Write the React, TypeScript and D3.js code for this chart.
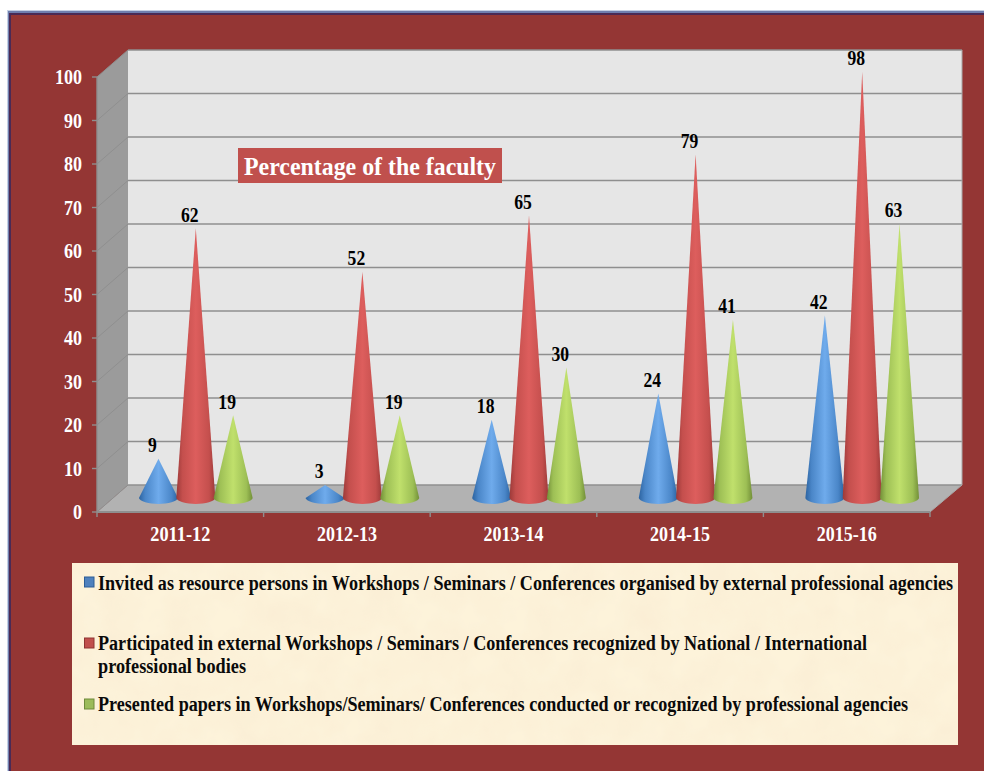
import React from 'react';
import * as d3 from 'd3';

const years = ['2011-12', '2012-13', '2013-14', '2014-15', '2015-16'];
const seriesNames = ['invited', 'participated', 'presented'];
const invited = [9, 3, 18, 24, 42];
const participated = [62, 52, 65, 79, 98];
const presented = [19, 19, 30, 41, 63];
const yTicks = [0, 10, 20, 30, 40, 50, 60, 70, 80, 90, 100];
const chartTitle = 'Percentage of the faculty';
const legendLines = [
  'Invited as resource persons in Workshops / Seminars / Conferences organised by external professional agencies',
  'Participated in external Workshops / Seminars / Conferences recognized by National / International',
  'professional bodies',
  'Presented papers in Workshops/Seminars/ Conferences conducted or recognized by professional agencies',
];

const seriesValues = [invited, participated, presented];
const coneColors = [
  ['#2c63a0', '#4a86c8', '#6fabec', '#4a86c8', '#2c63a0'],
  ['#9c3a39', '#c44f4d', '#dd5e5d', '#c44f4d', '#9c3a39'],
  ['#728f38', '#9dbf55', '#c0e06c', '#9dbf55', '#728f38'],
];
const coneStops = [0, 0.16, 0.5, 0.84, 1];
const swatchColors = [['#4f81bd', '#2c5d96'], ['#c0504d', '#8f3432'], ['#9bbb59', '#6f8a3a']];

const serif = '"Liberation Serif", "Times New Roman", serif';
const depthX = 31;
const depthY = 27;
const left = 97;
const right = 930;
const bottom = 512;
const top = 77;
const halfWidth = 19.5;
const gridColor = '#8f8f8f';

const x = d3.scaleBand().domain(years).range([left, right]);
const y = d3.scaleLinear().domain([0, 100]).range([bottom, top]);

function conePath(cx: number, value: number) {
  const base = y(0) - 14;
  const p = d3.path();
  p.moveTo(cx - halfWidth, base);
  p.lineTo(cx, y(value) - 14);
  p.lineTo(cx + halfWidth, base);
  p.bezierCurveTo(cx + halfWidth, base + 3, cx + 9, base + 6, cx, base + 6);
  p.bezierCurveTo(cx - 9, base + 6, cx - halfWidth, base + 3, cx - halfWidth, base);
  p.closePath();
  return p.toString();
}

export default function App() {
  const inner = d3.scaleBand().domain(seriesNames).range([-56, 56]);
  const ticksX = [...years.map((d) => x(d) as number), right];

  return (
    <svg width={984} height={771} style={{ position: 'absolute', left: 0, top: 0, display: 'block' }}>
      <defs>
        {coneColors.map((stops, i) => (
          <linearGradient id={`cone${i}`} key={i} x1="0" x2="1" y1="0" y2="0">
            {stops.map((c, j) => (
              <stop key={j} offset={coneStops[j]} stopColor={c} />
            ))}
          </linearGradient>
        ))}
        <filter id="parchment" x="0" y="0" width="100%" height="100%">
          <feTurbulence type="fractalNoise" baseFrequency="0.03" numOctaves={3} seed={4} />
          <feColorMatrix values="0 0 0 0 0.96  0 0 0 0 0.85  0 0 0 0 0.66  1.4 0 0 0 -0.45" />
          <feComposite in2="SourceGraphic" operator="in" />
          <feMerge>
            <feMergeNode in="SourceGraphic" />
            <feMergeNode />
          </feMerge>
        </filter>
      </defs>

      {/* frame */}
      <rect x={7} y={10} width={977} height={761} fill="#c5d0e4" />
      <rect x={8} y={11} width={976} height={760} fill="#6f7fae" />
      <rect x={9} y={13} width={975} height={758} fill="#4a2a55" />
      <rect x={11} y={15} width={973} height={756} fill="#943634" />

      {/* walls and floor */}
      <polygon
        points={`${left},${top} ${left + depthX},${top - depthY} ${left + depthX},${bottom - depthY} ${left},${bottom}`}
        fill="#9b9b9b"
      />
      <rect x={left + depthX} y={top - depthY} width={right - left + 1} height={bottom - top} fill="#e6e6e6" />
      <polygon
        points={`${left},${bottom} ${left + depthX},${bottom - depthY} ${right + depthX + 1},${bottom - depthY} ${right},${bottom}`}
        fill="#b2b2b2"
      />

      {/* gridlines */}
      {yTicks.map((t) => (
        <g key={t} stroke={gridColor} fill="none">
          <line x1={left} y1={y(t)} x2={left + depthX} y2={y(t) - depthY} strokeWidth={1} />
          <line x1={left + depthX} y1={y(t) - depthY} x2={right + depthX + 1} y2={y(t) - depthY} strokeWidth={1.4} />
          <line x1={left - 5} y1={y(t)} x2={left} y2={y(t)} strokeWidth={1.4} />
        </g>
      ))}
      <line x1={right + depthX + 1} y1={top - depthY} x2={right + depthX + 1} y2={bottom - depthY} stroke="#a8a8a8" />
      <line x1={left} y1={top} x2={left} y2={bottom} stroke={gridColor} strokeWidth={1.4} />
      <line x1={left} y1={bottom} x2={right} y2={bottom} stroke={gridColor} strokeWidth={1.8} />
      <line x1={right} y1={bottom} x2={right + depthX + 1} y2={bottom - depthY} stroke="#a8a8a8" />
      {ticksX.map((tx) => (
        <line key={tx} x1={tx} y1={bottom} x2={tx} y2={bottom + 5} stroke={gridColor} strokeWidth={1.4} />
      ))}

      {/* y axis labels */}
      {yTicks.map((t) => (
        <text
          key={t}
          x={82}
          y={y(t) + 7}
          textAnchor="end"
          fontFamily={serif}
          fontWeight="bold"
          fontSize={20}
          fill="#fff"
          textLength={String(t).length * 9}
          lengthAdjust="spacingAndGlyphs"
        >
          {t}
        </text>
      ))}

      {/* x axis labels */}
      {years.map((d) => (
        <text
          key={d}
          x={(x(d) as number) + x.bandwidth() / 2}
          y={541}
          textAnchor="middle"
          fontFamily={serif}
          fontWeight="bold"
          fontSize={20}
          fill="#fff"
          textLength={60}
          lengthAdjust="spacingAndGlyphs"
        >
          {d}
        </text>
      ))}

      {/* cones */}
      {years.map((d, i) => {
        const center = (x(d) as number) + x.bandwidth() / 2 + depthX / 2;
        return (
          <g key={d}>
            {seriesNames.map((s, k) => {
              const cx = center + (inner(s) as number) + inner.bandwidth() / 2;
              const v = seriesValues[k][i];
              return (
                <g key={s}>
                  <path d={conePath(cx, v)} fill={`url(#cone${k})`} />
                  <text
                    x={cx - 6}
                    y={y(v) - 20.5}
                    textAnchor="middle"
                    fontFamily={serif}
                    fontWeight="bold"
                    fontSize={20}
                    fill="#000"
                    textLength={String(v).length * 8.8}
                    lengthAdjust="spacingAndGlyphs"
                  >
                    {v}
                  </text>
                </g>
              );
            })}
          </g>
        );
      })}

      {/* title */}
      <rect x={238} y={148} width={264} height={35} fill="#c0504d" />
      <text
        x={244}
        y={175}
        fontFamily={serif}
        fontWeight="bold"
        fontSize={26}
        fill="#fff"
        textLength={252}
        lengthAdjust="spacingAndGlyphs"
      >
        {chartTitle}
      </text>

      {/* legend */}
      <rect x={72} y={563} width={886} height={182} fill="#fdf3da" filter="url(#parchment)" />
      {[577, 638, 699].map((sy, i) => (
        <rect
          key={sy}
          x={84.5}
          y={sy}
          width={9.5}
          height={10}
          fill={swatchColors[i][0]}
          stroke={swatchColors[i][1]}
          strokeWidth={1}
        />
      ))}
      {/* 18px stretched upright: the legend type is tall and narrow */}
      {legendLines.map((line, i) => (
        <text
          key={line}
          transform={`translate(98,${[589.5, 650, 673, 711][i]}) scale(1,1.11)`}
          fontFamily={serif}
          fontWeight="bold"
          fontSize={18}
          fill="#0a0a0a"
          textLength={[855, 769, 148, 810][i]}
          lengthAdjust="spacingAndGlyphs"
        >
          {line}
        </text>
      ))}
    </svg>
  );
}
